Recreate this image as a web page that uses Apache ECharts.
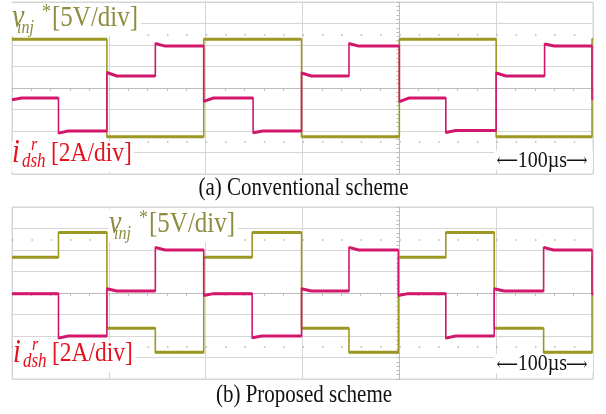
<!DOCTYPE html>
<html>
<head>
<meta charset="utf-8">
<script src="https://cdn.jsdelivr.net/npm/echarts@6/dist/echarts.min.js"></script>
<style>
  html, body { margin: 0; padding: 0; background: #ffffff; }
  #chart { width: 606px; height: 414px; }
</style>
</head>
<body>
<div id="chart"></div>
<script>
// Time axis in µs relative to the trigger (centre graticule line); 1 div = 100 µs
const TIME_MIN = -400, TIME_MAX = 200, TIME_DIV = 100;
// Vertical axis in graticule divisions
const DIV_MIN = -4, DIV_MAX = 4;
const DOT_ROWS = [2.5, -2.5];

// (a) Conventional scheme
const vinjA_start = [-400, -302, -202, -101, 0, 100, 199];
const vinjA_level = [2.27, -2.27, 2.27, -2.27, 2.27, -2.27, 2.27];
const idshA_start = [-400, -352, -302, -252, -202, -151, -101, -52, 0, 48, 100, 150, 199];
const idshA_level = [-0.47, -2.0, 0.56, 1.95, -0.47, -2.0, 0.56, 1.95, -0.47, -1.98, 0.56, 1.95, -0.5];
const idshA_peak  = [-0.55, -2.1, 0.72, 2.07, -0.62, -2.08, 0.7, 2.07, -0.63, -2.07, 0.7, 2.05, -0.5];

// (b) Proposed scheme
const vinjB_start = [-400, -352, -302, -252, -202, -152, -101, -52, -1, 48, 98, 149, 199];
const vinjB_level = [1.66, 2.81, -1.64, -2.76, 1.66, 2.81, -1.64, -2.76, 1.66, 2.81, -1.64, -2.76, 1.66];
const idshB_start = [-400, -352, -302, -252, -202, -152, -101, -52, -1, 48, 98, 149, 199];
const idshB_level = [-0.03, -2.0, 0.09, 2.0, -0.03, -2.0, 0.09, 2.0, -0.03, -2.0, 0.09, 2.0, -0.03];
const idshB_peak  = [-0.03, -2.1, 0.2, 2.12, -0.12, -2.08, 0.2, 2.12, -0.12, -2.1, 0.2, 2.12, -0.03];

// Settling time of the current after each step, µs
const SETTLE_US = 10;

const CAPTION_A = '(a) Conventional scheme';
const CAPTION_B = '(b) Proposed scheme';
const TIME_TEXT = '100\u00b5s';
const ARROW_L = '\u27f5';
const ARROW_R = '\u27f6';

const OLIVE = '#9c9824';
const PINK = '#d2166c';
const OLIVE_TEXT = '#8e8c40';
const RED_TEXT = '#e3121d';
const GRID = '#d6d6d6';
const AXIS = '#bcbcbc';
const SERIF = '"Liberation Serif", "Times New Roman", serif';
const ARROW_FONT = '"DejaVu Serif", "DejaVu Sans", sans-serif';
const STRETCH = 1.2;

// Piecewise-constant trace: each segment starts at its (optional) peak and settles to its level.
// With plateausOnly the segments are separated by gaps so the edges are left out.
function trace(start, level, peak, plateausOnly) {
  const pts = [];
  for (let k = 0; k < start.length; k++) {
    const t0 = start[k];
    const t1 = k + 1 < start.length ? start[k + 1] : TIME_MAX;
    const p = peak ? peak[k] : level[k];
    pts.push([t0, p]);
    if (peak && t0 + SETTLE_US < t1) pts.push([t0 + SETTLE_US, level[k]]);
    pts.push([t1, level[k]]);
    if (plateausOnly) pts.push([t1, null]);
  }
  return pts;
}

function xAxisFor(gridIndex) {
  return {
    type: 'value', gridIndex, min: TIME_MIN, max: TIME_MAX, interval: TIME_DIV,
    axisLabel: { show: false },
    axisLine: { show: true, onZero: true, lineStyle: { color: AXIS, width: 1 } },
    axisTick: { show: true, length: 3, lineStyle: { color: AXIS } },
    minorTick: { show: true, splitNumber: 5, length: 3, lineStyle: { color: AXIS } },
    splitLine: { show: true, lineStyle: { color: GRID, width: 1 } }
  };
}
function yAxisFor(gridIndex) {
  return {
    type: 'value', gridIndex, min: DIV_MIN, max: DIV_MAX, interval: 1,
    axisLabel: { show: false },
    axisLine: { show: true, onZero: true, lineStyle: { color: AXIS, width: 1 } },
    axisTick: { show: true, length: 3, lineStyle: { color: AXIS } },
    minorTick: { show: true, splitNumber: 5, length: 3, lineStyle: { color: AXIS } },
    splitLine: { show: true, lineStyle: { color: GRID, width: 1 } }
  };
}
function lineSeries(name, gridIndex, data, color, width, withDots) {
  const s = {
    name, type: 'line', xAxisIndex: gridIndex, yAxisIndex: gridIndex,
    data, showSymbol: false, symbol: 'none', animation: false, silent: true,
    connectNulls: false,
    lineStyle: { color, width, join: 'miter' }
  };
  if (withDots) {
    s.markLine = {
      silent: true, symbol: 'none', animation: false, label: { show: false },
      lineStyle: { color: '#b4b4b4', width: 1.5, type: [1.5, 17.87] },
      data: DOT_ROWS.map(v => ({ yAxis: v }))
    };
  }
  return s;
}
// A channel: thin full trace (edges) plus thicker plateaus
function channel(name, gridIndex, start, level, peak, color, withDots) {
  return [
    lineSeries(name + 'Edges', gridIndex, trace(start, level, peak, false), color, 1.6, withDots),
    lineSeries(name, gridIndex, trace(start, level, peak, true), color, 3, false)
  ];
}

function txt(x, y, s, size, color, italic, align, font) {
  const style = {
    text: s, fontFamily: font || SERIF, fontSize: size, fontStyle: italic ? 'italic' : 'normal',
    fill: color, align: align || 'left', verticalAlign: 'middle',
    textAlign: align || 'left', textVerticalAlign: 'middle'
  };
  return { type: 'text', x, y, scaleY: STRETCH, z: 100, silent: true, style };
}
function box(x, y, w, h) {
  return { type: 'rect', z: 99, silent: true, shape: { x, y, width: w, height: h }, style: { fill: '#ffffff' } };
}

// Channel labels: v_inj*[5V/div] and i^r_dsh[2A/div]
function voltageLabel(dx, dy) {
  return [
    box(dx + 11, dy + 3, 130, 33),
    txt(dx + 12, dy + 18, 'v', 28, OLIVE_TEXT, true),
    txt(dx + 17, dy + 28, 'inj', 16, OLIVE_TEXT, true),
    txt(dx + 42, dy + 12, '*', 18, OLIVE_TEXT, false),
    txt(dx + 52, dy + 18, '[5V/div]', 25, OLIVE_TEXT, false)
  ];
}
function currentLabel(dx, dy) {
  return [
    box(dx + 12, dy + 141, 122, 31),
    txt(dx + 12, dy + 153, 'i', 28, RED_TEXT, true),
    txt(dx + 22, dy + 162, 'dsh', 17, RED_TEXT, true),
    txt(dx + 31, dy + 145, 'r', 16, RED_TEXT, true),
    txt(dx + 51, dy + 154, '[2A/div]', 23.5, RED_TEXT, false)
  ];
}
// ⟵100µs⟶ scale marker spanning one division
function timeMarker(cy) {
  return [
    box(494, cy - 10, 99, 19),
    txt(518, cy + 1, ARROW_L, 15, '#111111', false, 'right', ARROW_FONT),
    txt(542.5, cy, TIME_TEXT, 20, '#111111', false, 'center'),
    txt(566, cy + 1, ARROW_R, 15, '#111111', false, 'left', ARROW_FONT)
  ];
}

const chart = echarts.init(document.getElementById('chart'), null, { renderer: 'canvas' });
chart.setOption({
  backgroundColor: '#ffffff',
  animation: false,
  grid: [
    { left: 12, top: 2, width: 581, height: 172, show: true, borderColor: GRID, borderWidth: 1 },
    { left: 12, top: 207, width: 581, height: 172, show: true, borderColor: GRID, borderWidth: 1 }
  ],
  xAxis: [xAxisFor(0), xAxisFor(1)],
  yAxis: [yAxisFor(0), yAxisFor(1)],
  series: [
    ...channel('vinjA', 0, vinjA_start, vinjA_level, null, OLIVE, true),
    ...channel('idshA', 0, idshA_start, idshA_level, idshA_peak, PINK, false),
    ...channel('vinjB', 1, vinjB_start, vinjB_level, null, OLIVE, true),
    ...channel('idshB', 1, idshB_start, idshB_level, idshB_peak, PINK, false)
  ],
  graphic: [
    ...voltageLabel(0, 0),
    ...currentLabel(0, 0),
    ...voltageLabel(97, 206),
    ...currentLabel(1, 200),
    ...timeMarker(160.5),
    ...timeMarker(364),
    txt(303.5, 188.5, CAPTION_A, 21, '#111111', false, 'center'),
    txt(304, 395, CAPTION_B, 21, '#111111', false, 'center')
  ]
});
</script>
</body>
</html>
